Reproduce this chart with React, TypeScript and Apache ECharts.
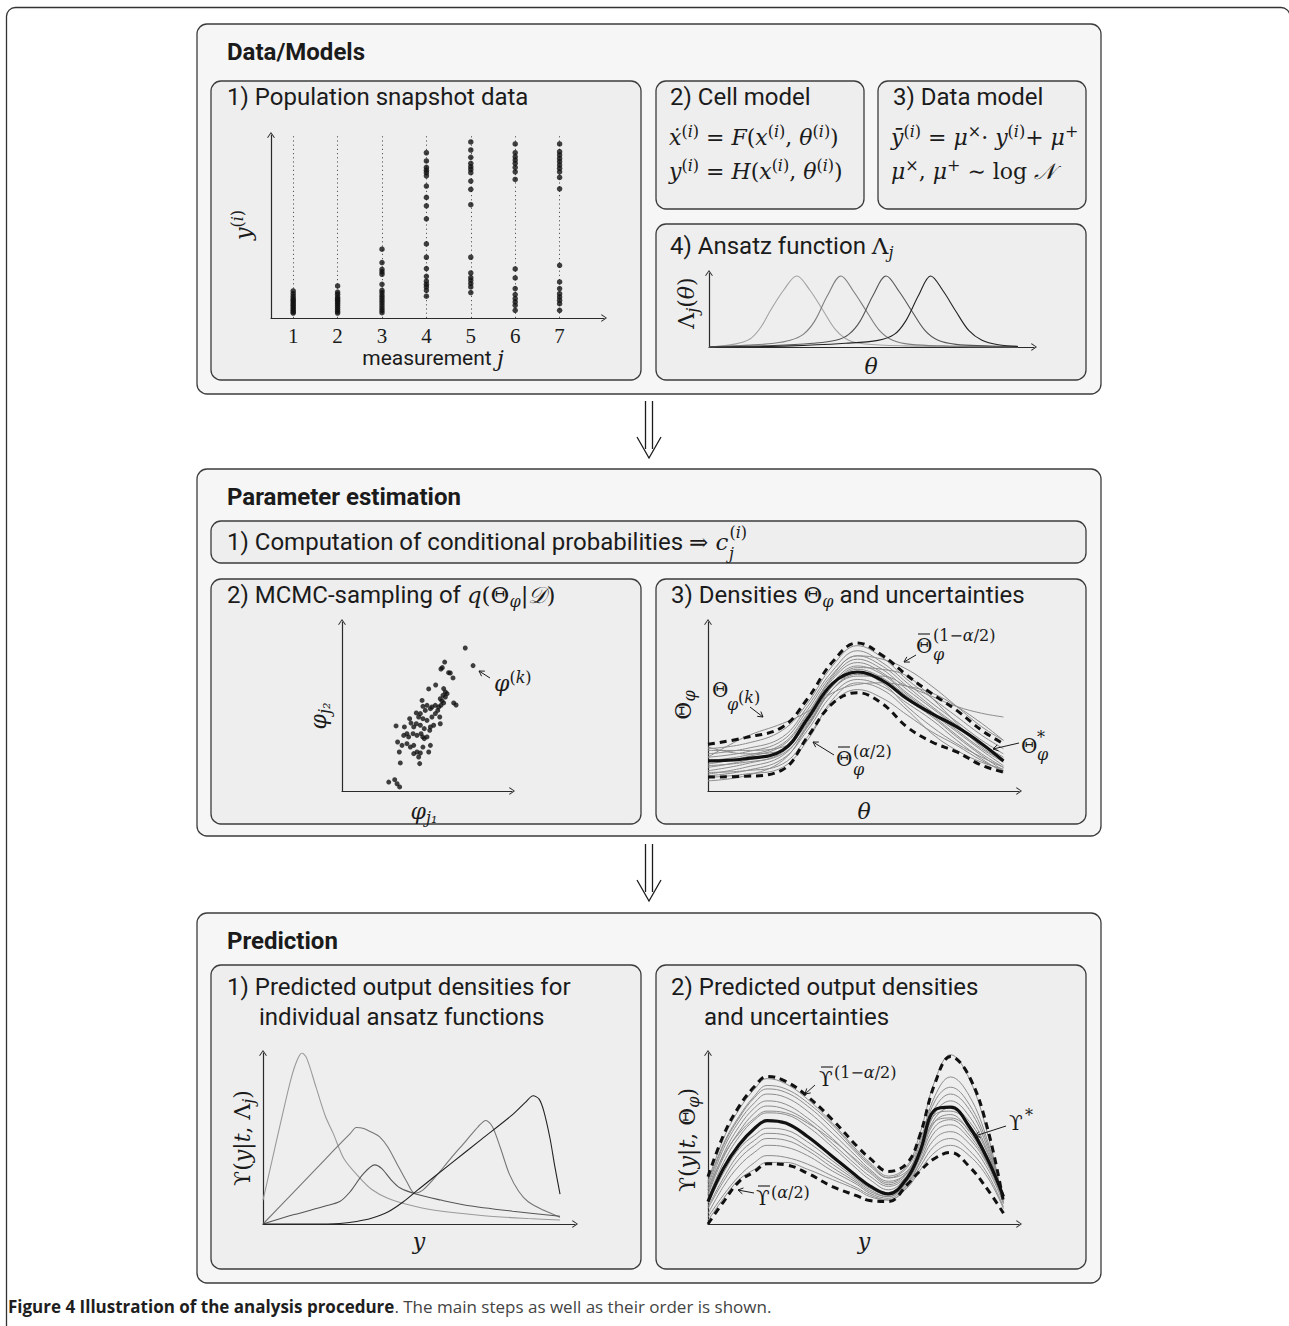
import React, { useEffect, useRef } from 'react';
import * as echarts from 'echarts';

const W = 1289;
const H = 1326;
const INK = '#1b1b1b';
const AX = '#2a2a2a';
const SANS = "Roboto, 'Noto Sans', sans-serif";
const SERIF = "'DejaVu Serif', 'Liberation Serif', serif";
const CAP = "'Open Sans', 'Noto Sans', sans-serif";

// ---------- data: population snapshot ----------
const measurements = [1, 2, 3, 4, 5, 6, 7];
const popJ1 = [14.8, 13.3, 11.9, 10.6, 9.7, 8.8, 7.8, 6.9, 6.0, 5.1, 4.2, 3.3, 2.7];
const popJ2 = [17.5, 14.2, 13.0, 11.5, 10.6, 9.7, 8.8, 7.8, 6.8, 5.7, 4.6, 3.5, 2.7];
const popJ3 = [37.6, 30.3, 26.6, 25.2, 23.9, 18.4, 15.1, 13.9, 12.4, 11.1, 9.7, 8.4, 6.9, 5.5, 4.2, 2.9];
const popJ4 = [90.3, 85.8, 82.3, 80.8, 79.4, 77.7, 72.1, 65.9, 61.3, 54.2, 40.5, 33.2, 27.0, 22.8, 20.1, 18.4, 17.0, 15.1, 11.9];
const popJ5 = [96.2, 91.8, 87.8, 84.5, 82.7, 81.2, 79.4, 74.8, 70.3, 61.9, 33.2, 24.6, 22.1, 20.6, 18.8, 17.0, 13.9];
const popJ6 = [95.1, 90.3, 88.1, 86.3, 84.5, 82.3, 79.9, 75.7, 26.8, 21.9, 16.1, 12.8, 10.6, 8.8, 6.9, 4.2];
const popJ7 = [95.1, 90.9, 89.1, 87.2, 85.4, 83.6, 81.8, 79.9, 76.8, 70.6, 28.8, 19.7, 16.1, 13.3, 11.5, 9.7, 7.8, 4.2];
const popColumns = [popJ1, popJ2, popJ3, popJ4, popJ5, popJ6, popJ7];

// ---------- data: ansatz functions ----------
const ansatz1 = [[0, 0], [6, 2.5], [10, 6], [13, 12], [16, 27], [19, 50], [23, 77], [27, 96], [31, 77], [35, 50], [39, 23], [43, 9], [48, 4], [60, 1.5], [80, 0.5], [95, 0.2]];
const ansatz2 = [[0, 0], [12, 2.5], [20, 5], [25, 9], [29, 17], [32.5, 35], [36.5, 70], [40.6, 96], [44.5, 75], [48.5, 48], [52.5, 22], [56.5, 9], [62, 3.5], [72, 1.5], [95, 0.3]];
const ansatz3 = [[0, 0], [20, 2], [32, 5], [39, 9], [43, 17], [46.5, 35], [50.5, 70], [54.5, 96], [58.5, 75], [62.5, 48], [66.5, 22], [70.5, 9], [76, 3.5], [85, 1.5], [95, 0.5]];
const ansatz4 = [[0, 0], [25, 1.5], [42, 5], [52, 9], [57, 17], [60.5, 35], [64.5, 70], [68.2, 96], [72, 76], [76, 48], [80, 22], [84, 9], [89, 3], [95, 0.8]];
const ansatzCurves = [ansatz1, ansatz2, ansatz3, ansatz4];
const ansatzColors = ['#a3a3a3', '#7e7e7e', '#555555', '#222222'];

// ---------- data: MCMC samples ----------
const phiJ1 = [72.5, 77.1, 60.4, 59.0, 58.2, 62.7, 63.7, 65.3, 51.0, 55.1, 59.8, 60.8, 61.8, 59.4, 60.8, 65.7, 67.1, 57.8, 58.8, 59.8, 58.2, 56.9, 54.9, 52.9, 52.0, 50.0, 47.1, 47.6, 49.0, 46.1, 43.7, 45.1, 47.6, 50.0, 52.9, 54.9, 56.3, 57.5, 57.8, 53.9, 52.0, 51.6, 48.4, 46.1, 43.7, 42.2, 39.8, 40.6, 38.2, 36.7, 31.8, 41.8, 44.1, 46.5, 47.5, 48.4, 50.0, 52.0, 51.0, 47.6, 46.1, 45.1, 44.1, 42.2, 40.2, 38.2, 35.3, 32.7, 33.7, 34.3, 45.7, 42.2, 39.2, 36.3, 27.5, 31.0, 32.4, 33.9];
const phiJ2 = [84.6, 74.2, 76.3, 73.0, 72.2, 70.0, 69.8, 66.9, 60.4, 62.7, 60.6, 58.6, 57.6, 56.6, 55.6, 52.1, 50.9, 54.6, 53.3, 52.1, 50.7, 49.7, 50.7, 49.7, 48.7, 50.7, 53.6, 50.1, 47.7, 45.8, 46.2, 43.8, 42.8, 41.8, 43.8, 45.8, 47.7, 43.8, 39.8, 38.9, 37.9, 35.9, 36.9, 38.9, 39.8, 37.9, 42.8, 40.2, 33.9, 37.9, 38.5, 33.9, 32.9, 33.9, 32.0, 31.0, 32.0, 27.0, 23.1, 26.0, 22.5, 20.1, 23.1, 27.0, 26.0, 28.0, 27.0, 29.0, 23.1, 16.6, 16.2, 22.1, 32.0, 32.9, 5.3, 6.7, 4.3, 2.4];

// ---------- data: densities Theta_phi ----------
const thetaX = [0, 12, 24, 32, 40, 48, 56, 64, 72, 80, 88, 95];
const thetaMean = [17.8, 19.1, 24.1, 42.8, 63.5, 70.4, 65.5, 54.6, 45.8, 37.9, 28.0, 17.8];
const thetaUpper = [27.6, 31.6, 37.9, 54.6, 76.3, 87.6, 80.3, 68.4, 57.6, 47.7, 35.9, 28.0];
const thetaLower = [8.3, 8.7, 12.6, 32.0, 51.7, 58.2, 51.7, 37.9, 29.0, 23.1, 15.2, 11.2];
const thetaSamples = [
  [25, 28, 36, 52, 74, 86, 79, 66, 55, 44, 33, 25],
  [22, 25, 32, 50, 71, 83, 76, 64, 52, 41, 30, 22],
  [20, 23, 30, 48, 69, 80, 74, 62, 50, 39, 28, 20],
  [18, 21, 28, 46, 67, 78, 72, 60, 49, 38, 27, 19],
  [16, 20, 27, 45, 66, 76, 70, 58, 47, 36, 25, 17],
  [14, 18, 25, 43, 64, 74, 69, 57, 46, 35, 24, 15],
  [12, 16, 23, 41, 62, 72, 67, 56, 45, 33, 22, 14],
  [10, 14, 21, 39, 60, 69, 65, 54, 44, 32, 21, 12],
  [9, 12, 19, 36, 57, 66, 62, 52, 42, 30, 19, 11],
  [11, 12, 16, 32, 52, 60, 55, 45, 35, 27, 18, 12],
  [20, 32, 40, 47, 58, 63, 64, 62, 58, 50, 40, 30],
  [15, 17, 22, 38, 60, 68, 68, 62, 56, 50, 46, 43.8],
  [24, 24, 26, 40, 62, 73, 72, 68, 55, 40, 26, 18],
  [6, 9, 18, 38, 60, 70, 64, 50, 38, 28, 20, 14],
  [26, 22, 24, 44, 68, 80, 78, 72, 62, 50, 38, 30],
  [8, 10, 14, 30, 54, 64, 60, 48, 34, 24, 17, 13],
];

// ---------- data: predicted output for individual ansatz functions ----------
const predA = [[0, 14], [3, 38], [6, 62], [9, 85], [11, 96], [12.5, 100], [14, 97], [17, 80], [20, 63], [22.5, 53], [26, 38], [31, 27], [35, 20], [40, 15], [46, 11.5], [55, 8], [70, 5], [85, 3.2], [95.2, 2.3]];
const predB = [[0, 0], [10, 19], [20, 38], [25, 47.5], [28, 53], [29.9, 56.4], [32, 56], [35, 53.5], [37.4, 51], [40, 45], [43, 35], [46, 25], [48.6, 18], [51, 19.5], [55, 27], [60, 38], [65, 48.5], [69, 57], [71.4, 60.5], [73.5, 57], [76, 45], [79, 29], [82, 19], [85, 13], [90, 8], [95.2, 4]];
const predC = [[0, 0], [10, 5.5], [20, 10.5], [24.6, 13.1], [28, 19], [32, 29], [35.8, 34.6], [38, 32.5], [41, 26], [44, 21], [49, 17.5], [57, 14], [65, 11], [80, 7.5], [95.2, 4.5]];
const predD = [[0, 0], [15, 0], [24.6, 0.3], [30, 1.5], [35, 3.5], [40, 7], [45, 13], [50, 20.5], [60, 35], [70, 49.5], [80, 64], [84, 71], [86.6, 75], [88.5, 73], [90, 66], [92, 50], [93.5, 34], [95.2, 17.5]];
const predCurves = [predA, predB, predC, predD];
const predColors = ['#9a9a9a', '#777777', '#555555', '#222222'];

// ---------- data: predicted output densities with uncertainties ----------
const upsX = [0, 5, 10, 15, 19, 25, 32, 40, 48, 52, 58, 64, 68, 73, 78, 84, 90, 95];
const upsMean = [13.1, 32.6, 46.3, 56, 60.5, 59, 51.2, 39.5, 27.7, 22.3, 17.6, 26.8, 41.4, 66.8, 68.4, 57, 37.5, 16];
const upsUpper = [27.7, 52, 68.8, 80.5, 86.3, 83.4, 74.6, 61, 45.3, 38.5, 30.7, 35.5, 51.2, 82.4, 98, 86.3, 55, 13.1];
const upsLower = [0, 13, 24.8, 30.7, 35.2, 34.6, 29.7, 21.9, 16.4, 13.7, 13.1, 22.9, 30.7, 38.5, 41.8, 33.6, 19.9, 6.3];
const upsSamples = [
  [25, 50, 67, 79, 85, 82, 73, 59, 43, 36, 28, 34, 52, 84, 99, 85, 52, 12],
  [22, 46, 62, 74, 79, 77, 69, 56, 41, 34, 27, 31, 46, 72, 80, 70, 46, 14],
  [20, 44, 60, 71, 76, 74, 66, 53, 39, 32, 25, 30, 44, 68, 76, 67, 44, 15],
  [18, 41, 57, 68, 72, 70, 62, 50, 36, 30, 23, 29, 42, 65, 72, 63, 42, 15],
  [17, 39, 54, 65, 69, 67, 60, 47, 34, 28, 22, 28, 41, 62, 68, 60, 41, 16],
  [15, 36, 51, 61, 65, 64, 57, 45, 32, 26, 20, 28, 42, 64, 66, 58, 39, 16],
  [12, 30, 44, 52, 56, 55, 48, 37, 26, 21, 17, 25, 39, 60, 64, 54, 36, 15],
  [10, 27, 41, 49, 53, 52, 45, 35, 25, 20, 16, 25, 38, 57, 61, 52, 35, 14],
  [9, 25, 38, 46, 50, 49, 43, 33, 24, 19, 16, 24, 36, 54, 58, 50, 34, 13],
  [6, 22, 34, 42, 46, 45, 40, 31, 23, 18, 15, 23, 35, 50, 54, 47, 32, 12],
  [4, 17, 28, 36, 40, 39, 35, 28, 21, 17, 14, 22, 33, 46, 50, 43, 29, 10],
  [2, 15, 26, 32, 36, 36, 32, 26, 20, 16, 14, 21, 31, 42, 46, 40, 27, 9],
  [20, 40, 53, 62, 66, 65, 59, 49, 37, 31, 24, 30, 43, 60, 62, 55, 39, 17],
  [24, 47, 63, 75, 81, 79, 71, 58, 42, 35, 27, 33, 48, 75, 86, 75, 48, 14],
];

// ---------- helpers ----------
function mk(s: number, ts: number, ratio = 0.72, lhOverride?: number) {
  const lh = lhOverride || Math.round(s * 1.25);
  const ss = Math.round(s * ratio);
  const sl = Math.min(ss, lh);
  const base = { fill: INK };
  return {
    t: { ...base, fontFamily: SANS, fontSize: ts, verticalAlign: 'middle', lineHeight: lh },
    b: { ...base, fontFamily: SANS, fontSize: ts, fontWeight: 'bold', verticalAlign: 'middle', lineHeight: lh },
    m: { ...base, fontFamily: SERIF, fontStyle: 'italic', fontSize: s, verticalAlign: 'middle', lineHeight: lh },
    r: { ...base, fontFamily: SERIF, fontSize: s, verticalAlign: 'middle', lineHeight: lh },
    sup: { ...base, fontFamily: SERIF, fontStyle: 'italic', fontSize: ss, verticalAlign: 'top', lineHeight: sl },
    supr: { ...base, fontFamily: SERIF, fontSize: ss, verticalAlign: 'top', lineHeight: sl },
    sub: { ...base, fontFamily: SERIF, fontStyle: 'italic', fontSize: ss, verticalAlign: 'bottom', lineHeight: sl },
    subr: { ...base, fontFamily: SERIF, fontSize: ss, verticalAlign: 'bottom', lineHeight: sl },
  };
}
const RT = mk(23, 24, 0.7);
const RE = mk(22, 24, 0.72);
const RA = mk(22, 21, 0.72);
const RM = mk(22, 21, 0.72, 20);
const RB = mk(20, 20, 0.75, 20);
const RS = mk(16, 16, 0.75, 13);

function txt(x: number, y: number, text: string, rich: any, o: any = {}) {
  return {
    type: 'text',
    x,
    y,
    z: 20,
    silent: true,
    rotation: o.rot || 0,
    style: { text, rich, align: o.align || 'left', verticalAlign: 'middle', fill: INK },
  };
}

function bar(x1: number, x2: number, y: number) {
  return { type: 'line', z: 20, silent: true, shape: { x1, y1: y, x2, y2: y }, style: { stroke: INK, lineWidth: 1.1 } };
}

function box(x: number, y: number, w: number, h: number, fill: string) {
  return {
    type: 'rect',
    z: -10,
    silent: true,
    shape: { x, y, width: w, height: h, r: 10 },
    style: { fill, stroke: '#3c3c3c', lineWidth: 1.3 },
  };
}

function arrow(x1: number, y1: number, x2: number, y2: number) {
  const a = Math.atan2(y2 - y1, x2 - x1);
  const L = 5;
  const w = 3;
  const p1 = [x2 - L * Math.cos(a) + w * Math.sin(a), y2 - L * Math.sin(a) - w * Math.cos(a)];
  const p2 = [x2 - L * Math.cos(a) - w * Math.sin(a), y2 - L * Math.sin(a) + w * Math.cos(a)];
  return [
    { type: 'line', z: 20, silent: true, shape: { x1, y1, x2, y2 }, style: { stroke: INK, lineWidth: 1 } },
    { type: 'polyline', z: 20, silent: true, shape: { points: [p1, [x2, y2], p2] }, style: { stroke: INK, fill: null, lineWidth: 1 } },
  ];
}

function bigArrow(cx: number, top: number) {
  return [
    { type: 'line', z: 20, silent: true, shape: { x1: cx - 3.5, y1: top, x2: cx - 3.5, y2: top + 48 }, style: { stroke: INK, lineWidth: 1.3 } },
    { type: 'line', z: 20, silent: true, shape: { x1: cx + 3.5, y1: top, x2: cx + 3.5, y2: top + 48 }, style: { stroke: INK, lineWidth: 1.3 } },
    { type: 'polyline', z: 20, silent: true, shape: { points: [[cx - 12, top + 36], [cx, top + 57], [cx + 12, top + 36]] }, style: { stroke: INK, fill: null, lineWidth: 1.3 } },
  ];
}

const ARROW = 'path://M5,0L10,7L9,7.8L5,1.8L1,7.8L0,7Z';

function axis(gridIndex: number, min: number, max: number, extra: any = {}) {
  return {
    type: 'value',
    gridIndex,
    min,
    max,
    axisLine: { show: true, onZero: false, lineStyle: { color: AX, width: 1.2 }, symbol: ['none', ARROW], symbolSize: [9, 6] },
    axisTick: { show: false },
    axisLabel: { show: false },
    splitLine: { show: false },
    ...extra,
  };
}

function pairs(xs: number[], ys: number[]) {
  return xs.map((x, i) => [x, ys[i]]);
}

function measure(text: string, font: string) {
  const c = document.createElement('canvas').getContext('2d');
  if (!c) return text.length * 11;
  c.font = font;
  return c.measureText(text).width;
}

function buildOption() {
  const SI = '{supr|(}{sup|i}{supr|)}';
  const grids = [
    { left: 271, top: 135, width: 333, height: 183 },
    { left: 709, top: 273, width: 325, height: 74 },
    { left: 342, top: 622, width: 170, height: 169 },
    { left: 708, top: 622, width: 311, height: 169 },
    { left: 263, top: 1053, width: 312, height: 171 },
    { left: 708, top: 1053, width: 311, height: 171 },
  ];
  const xAxis = [
    axis(0, 0.5, 8, {
      axisLabel: {
        show: true,
        customValues: measurements,
        fontFamily: "'Liberation Serif', serif",
        fontSize: 21,
        lineHeight: 18,
        color: INK,
        margin: 9,
      },
    }),
    axis(1, 0, 100),
    axis(2, 0, 100),
    axis(3, 0, 100),
    axis(4, 0, 100),
    axis(5, 0, 100),
  ];
  const yAxis = [axis(0, 0, 100), axis(1, 0, 100), axis(2, 0, 100), axis(3, 0, 100), axis(4, 0, 100), axis(5, 0, 100)];

  const series: any[] = [];
  const popData: number[][] = [];
  popColumns.forEach((col, i) => col.forEach((v) => popData.push([measurements[i], v])));
  series.push({
    type: 'scatter',
    xAxisIndex: 0,
    yAxisIndex: 0,
    symbolSize: 5.5,
    itemStyle: { color: '#111' },
    data: popData,
    z: 5,
    markLine: {
      silent: true,
      symbol: ['none', 'none'],
      label: { show: false },
      lineStyle: { type: [1.2, 3], color: '#555', width: 1 },
      data: measurements.map((m) => ({ xAxis: m })),
    },
  });
  ansatzCurves.forEach((c, i) =>
    series.push({ type: 'line', xAxisIndex: 1, yAxisIndex: 1, smooth: 0.35, symbol: 'none', lineStyle: { color: ansatzColors[i], width: 1.1 }, data: c })
  );
  series.push({
    type: 'scatter',
    xAxisIndex: 2,
    yAxisIndex: 2,
    symbolSize: 5,
    itemStyle: { color: '#111' },
    data: pairs(phiJ1, phiJ2),
  });
  thetaSamples.forEach((s) =>
    series.push({ type: 'line', xAxisIndex: 3, yAxisIndex: 3, smooth: 0.4, symbol: 'none', lineStyle: { color: '#8c8c8c', width: 1 }, data: pairs(thetaX, s) })
  );
  [thetaUpper, thetaLower].forEach((s) =>
    series.push({ type: 'line', xAxisIndex: 3, yAxisIndex: 3, smooth: 0.4, symbol: 'none', z: 4, lineStyle: { color: '#111', width: 3, type: [7, 5] }, data: pairs(thetaX, s) })
  );
  series.push({ type: 'line', xAxisIndex: 3, yAxisIndex: 3, smooth: 0.4, symbol: 'none', z: 5, lineStyle: { color: '#111', width: 3.2 }, data: pairs(thetaX, thetaMean) });

  predCurves.forEach((c, i) =>
    series.push({ type: 'line', xAxisIndex: 4, yAxisIndex: 4, smooth: 0.3, symbol: 'none', lineStyle: { color: predColors[i], width: 1.1 }, data: c })
  );
  upsSamples.forEach((s) =>
    series.push({ type: 'line', xAxisIndex: 5, yAxisIndex: 5, smooth: 0.4, symbol: 'none', lineStyle: { color: '#8c8c8c', width: 1 }, data: pairs(upsX, s) })
  );
  [upsUpper, upsLower].forEach((s) =>
    series.push({ type: 'line', xAxisIndex: 5, yAxisIndex: 5, smooth: 0.4, symbol: 'none', z: 4, lineStyle: { color: '#111', width: 3, type: [7, 5] }, data: pairs(upsX, s) })
  );
  series.push({ type: 'line', xAxisIndex: 5, yAxisIndex: 5, smooth: 0.4, symbol: 'none', z: 5, lineStyle: { color: '#111', width: 3.2 }, data: pairs(upsX, upsMean) });

  // position of c_j^(i)
  const cx =
    227 +
    measure('1) Computation of conditional probabilities ', `24px ${SANS}`) +
    measure('⇒ ', `23px ${SERIF}`) +
    measure('c', `italic 23px ${SERIF}`);

  const PI2 = Math.PI / 2;
  const g: any[] = [
    {
      type: 'rect',
      z: -20,
      silent: true,
      shape: { x: 6.5, y: 7.5, width: 1283.5, height: 1400, r: 9 },
      style: { fill: '#ffffff', stroke: '#333', lineWidth: 1.3 },
    },
    box(197, 24, 904, 370, '#f6f6f6'),
    box(211, 81, 430, 299, '#eeeeee'),
    box(656, 81, 208, 128, '#eeeeee'),
    box(878, 81, 208, 128, '#eeeeee'),
    box(656, 224, 430, 156, '#eeeeee'),
    box(197, 469, 904, 367, '#f6f6f6'),
    box(211, 521, 875, 42, '#eeeeee'),
    box(211, 579, 430, 245, '#eeeeee'),
    box(656, 579, 430, 245, '#eeeeee'),
    box(197, 913, 904, 370, '#f6f6f6'),
    box(211, 965, 430, 304, '#eeeeee'),
    box(656, 965, 430, 304, '#eeeeee'),
    ...bigArrow(649, 401),
    ...bigArrow(649, 844),

    // titles
    txt(227, 52, '{b|Data/Models}', RT),
    txt(227, 97, '{t|1) Population snapshot data}', RT),
    txt(670, 97, '{t|2) Cell model}', RT),
    txt(893, 97, '{t|3) Data model}', RT),
    txt(670, 246, '{t|4) Ansatz function }{r|Λ}{sub|j}', RT),
    txt(227, 497, '{b|Parameter estimation}', RT),
    txt(227, 542, '{t|1) Computation of conditional probabilities }{r|⇒ }{m|c}', RT),
    txt(cx + 1, 532, '{r|(}{m|i}{r|)}', RS),
    txt(cx + 0.5, 553, '{m|j}', RS),
    txt(227, 595, '{t|2) MCMC-sampling of }{m|q}{r|(Θ}{sub|φ}{r||}{m|𝒟}{r|)}', RT),
    txt(671, 595, '{t|3) Densities }{r|Θ}{sub|φ}{t| and uncertainties}', RT),
    txt(227, 941, '{b|Prediction}', RT),
    txt(227, 987, '{t|1) Predicted output densities for}', RT),
    txt(259, 1017, '{t|individual ansatz functions}', RT),
    txt(671, 987, '{t|2) Predicted output densities}', RT),
    txt(704, 1017, '{t|and uncertainties}', RT),

    // equations
    txt(669, 137, `{m|ẋ}${SI}{r| = }{m|F}{r|(}{m|x}${SI}{r|, }{m|θ}${SI}{r|)}`, RE),
    txt(669, 171, `{m|y}${SI}{r| = }{m|H}{r|(}{m|x}${SI}{r|, }{m|θ}${SI}{r|)}`, RE),
    txt(891, 137, `{m|ȳ}${SI}{r| = }{m|μ}{supr|×}{r|· }{m|y}${SI}{r|+ }{m|μ}{supr|+}`, RE),
    txt(891, 171, '{m|μ}{supr|×}{r|, }{m|μ}{supr|+}{r| ∼ log }{m|𝒩}', RE),

    // population axis labels
    txt(243, 225, `{m|y}${SI}`, RA, { rot: PI2, align: 'center' }),
    txt(433, 358, '{t|measurement }{m|j}', RM, { align: 'center' }),

    // ansatz labels
    txt(686, 303, '{r|Λ}{sub|j}{r|(}{m|θ}{r|)}', RA, { rot: PI2, align: 'center' }),
    txt(871, 366, '{m|θ}', RA, { align: 'center' }),

    // MCMC labels
    txt(318, 716, '{m|φ}{sub|j₂}', RA, { rot: PI2, align: 'center' }),
    txt(424, 811, '{m|φ}{sub|j₁}', RA, { align: 'center' }),
    txt(494, 683, '{m|φ}{supr|(}{sup|k}{supr|)}', RA),
    ...arrow(490, 678, 479, 671),

    // densities labels
    txt(683, 705, '{r|Θ}{sub|φ}', RA, { rot: PI2, align: 'center' }),
    txt(864, 811, '{m|θ}', RA, { align: 'center' }),
    txt(916, 646, '{r|Θ}', RB),
    bar(918, 930, 634),
    txt(933, 635, '{r|(1−}{m|α}{r|/2)}', RS),
    txt(933, 654, '{m|φ}', RS),
    ...arrow(916, 655, 904, 662),
    txt(712, 690, '{r|Θ}', RB),
    txt(727, 704, '{m|φ}', RS),
    txt(738, 697, '{r|(}{m|k}{r|)}', RS),
    ...arrow(750, 707, 763, 717),
    txt(836, 759, '{r|Θ}', RB),
    bar(838, 850, 747),
    txt(853, 751, '{r|(}{m|α}{r|/2)}', RS),
    txt(853, 769, '{m|φ}', RS),
    ...arrow(834, 755, 813, 742),
    txt(1021, 746, '{r|Θ}', RB),
    txt(1037, 737, '{r|*}', RS),
    txt(1037, 754, '{m|φ}', RS),
    ...arrow(1019, 743, 993, 749),

    // prediction labels
    txt(242, 1138, '{r|ϒ(}{m|y}{r||}{m|t}{r|, Λ}{sub|j}{r|)}', RA, { rot: PI2, align: 'center' }),
    txt(419, 1241, '{m|y}', RA, { align: 'center' }),
    txt(687, 1140, '{r|ϒ(}{m|y}{r||}{m|t}{r|, Θ}{sub|φ}{r|)}', RA, { rot: PI2, align: 'center' }),
    txt(864, 1241, '{m|y}', RA, { align: 'center' }),
    txt(819, 1079, '{r|ϒ}', RB),
    bar(821, 833, 1067),
    txt(834, 1072, '{r|(1−}{m|α}{r|/2)}', RS),
    ...arrow(815, 1085, 805, 1094),
    txt(1009, 1123, '{r|ϒ}', RB),
    txt(1025, 1115, '{r|*}', RS),
    ...arrow(1006, 1126, 975, 1136),
    txt(756, 1198, '{r|ϒ}', RB),
    bar(758, 770, 1186),
    txt(771, 1192, '{r|(}{m|α}{r|/2)}', RS),
    ...arrow(754, 1193, 738, 1190),

    // caption
    {
      type: 'text',
      x: 8,
      y: 1306,
      z: 20,
      silent: true,
      style: {
        text: '{cb|Figure 4 Illustration of the analysis procedure}{cn|. The main steps as well as their order is shown.}',
        verticalAlign: 'middle',
        rich: {
          cb: { fontFamily: CAP, fontSize: 17, fontWeight: 'bold', fill: '#1e1e1e' },
          cn: { fontFamily: CAP, fontSize: 17, fill: '#444' },
        },
      },
    },
  ];

  return {
    animation: false,
    backgroundColor: '#ffffff',
    grid: grids,
    xAxis,
    yAxis,
    series,
    graphic: { elements: g },
  };
}

export default function App() {
  const ref = useRef<HTMLDivElement>(null);
  useEffect(() => {
    if (!ref.current) return;
    const chart = echarts.init(ref.current, null, { renderer: 'svg', width: W, height: H });
    chart.setOption(buildOption() as any);
    return () => chart.dispose();
  }, []);
  return <div ref={ref} style={{ position: 'absolute', left: 0, top: 0, width: W, height: H, background: '#fff' }} />;
}
